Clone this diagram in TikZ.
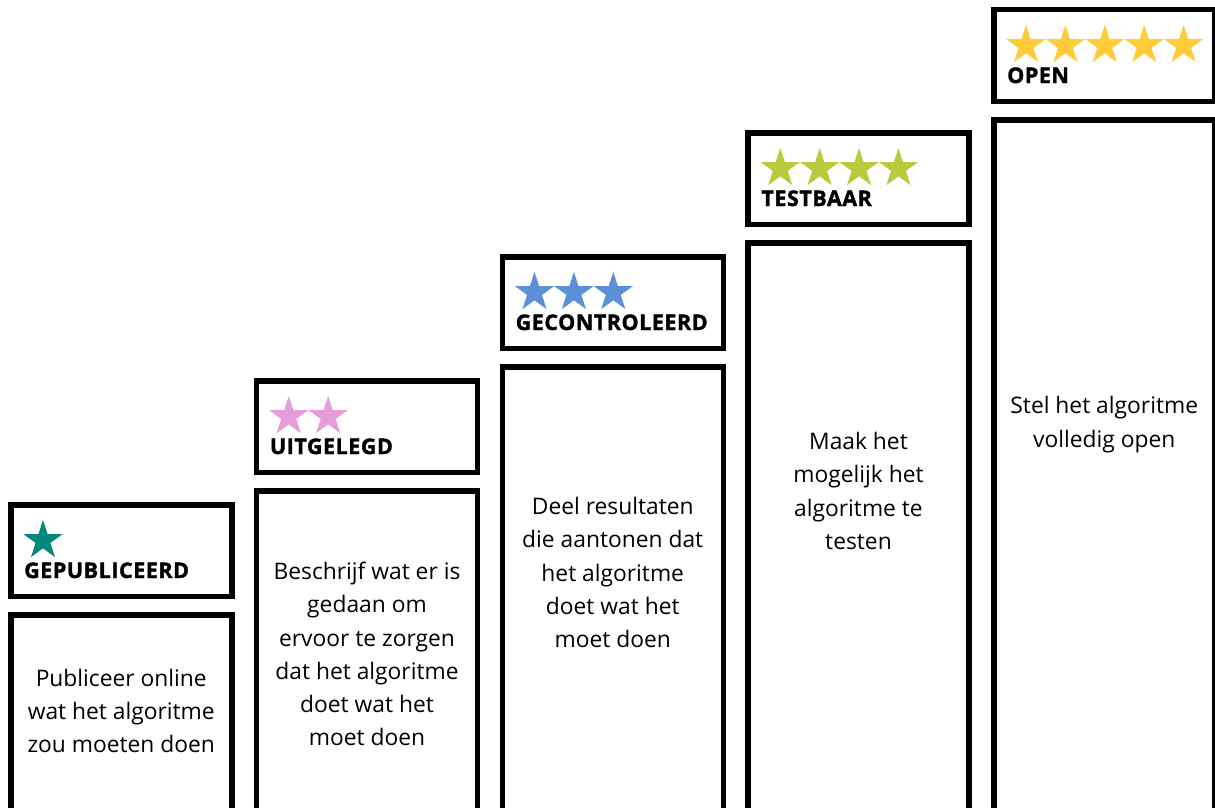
\documentclass[tikz,border=0pt]{standalone}
\usepackage{fontspec}
\setmainfont{Open Sans}
\newfontfamily\hdrfont{Open Sans}[BoldFeatures={FakeBold=1.5,LetterSpace=2.5}]
\definecolor{cteal}{HTML}{00897B}
\definecolor{cpink}{HTML}{E59CD9}
\definecolor{cblue}{HTML}{5B8FD8}
\definecolor{cgreen}{HTML}{BBC93F}
\definecolor{cgold}{HTML}{FFCC38}
\tikzset{
  frame/.style={draw=black, line width=5.5pt, fill=white},
  hdrlabel/.style={anchor=base west, inner sep=0pt, font=\hdrfont\bfseries\fontsize{21.5}{21.5}\selectfont},
  bodytext/.style={align=center, inner sep=0pt, font=\fontsize{22.8}{33.2}\selectfont},
  ratingstar/.pic={\fill[#1] (-90:20.5) -- (-54:7.83) -- (-18:20.5) -- (18:7.83) -- (54:20.5) -- (90:7.83) -- (126:20.5) -- (162:7.83) -- (198:20.5) -- (234:7.83) -- cycle;}
}
\begin{document}
\begin{tikzpicture}[x=1pt, y=-1pt]
\useasboundingbox (0,0) rectangle (1215,808);
\clip (0,0) rectangle (1215,808);
\fill[white] (0,0) rectangle (1215,808);
% columns: left, header top
\foreach \l/\t/\n [count=\i] in {8/502/1, 253.75/378/2, 499.5/254/3, 745.25/130/4, 991/7/5}{
  \draw[frame] (\l+2.75,\t+2.75) rectangle (\l+226.5-2.75,\t+97-2.75);
  \draw[frame] (\l+2.75,\t+110+2.75) rectangle (\l+226.5-2.75,830);
}
% stars
\pic at (43,540.5) {ratingstar=cteal};
\foreach \k in {0,1}{\pic at (288.75+39.4*\k,416.5) {ratingstar=cpink};}
\foreach \k in {0,1,2}{\pic at (534.5+39.4*\k,292.5) {ratingstar=cblue};}
\foreach \k in {0,...,3}{\pic at (780.25+39.4*\k,168.5) {ratingstar=cgreen};}
\foreach \k in {0,...,4}{\pic at (1026+39.4*\k,45.5) {ratingstar=cgold};}
% header labels
\node[hdrlabel] (h1) at (24,578) {GEPUBLICEERD};
\node[hdrlabel] (h2) at (269.75,454) {UITGELEGD};
\node[hdrlabel] (h3) at (515.5,330) {GECONTROLEERD};
\node[hdrlabel] (h4) at (761.25,206) {TESTBAAR};
\node[hdrlabel] (h5) at (1007,83) {OPEN};
% body texts
\node[bodytext] (b1) at (121.25,711) {Publiceer online\\wat het algoritme\\zou moeten doen};
\node[bodytext] (b2) at (367,654) {Beschrijf wat er is\\gedaan om\\ervoor te zorgen\\dat het algoritme\\doet wat het\\moet doen};
\node[bodytext] (b3) at (612.75,572.5) {Deel resultaten\\die aantonen dat\\het algoritme\\doet wat het\\moet doen};
\node[bodytext] (b4) at (858.5,491) {Maak het\\mogelijk het\\algoritme te\\testen};
\node[bodytext] (b5) at (1104.25,424.5) {Stel het algoritme\\volledig open};
\end{tikzpicture}
\end{document}
